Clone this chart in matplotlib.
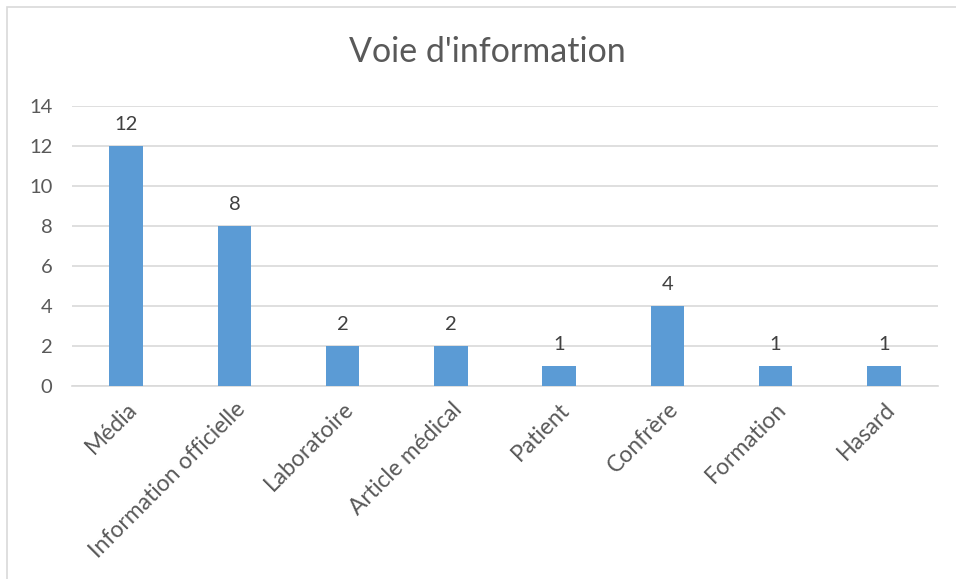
import matplotlib.pyplot as plt
from matplotlib.patches import Rectangle

categories = ['Média', 'Information officielle', 'Laboratoire', 'Article médical',
              'Patient', 'Confrère', 'Formation', 'Hasard']
counts = [12, 8, 2, 2, 1, 4, 1, 1]
yticks = [0, 2, 4, 6, 8, 10, 12, 14]

plt.rcParams['font.family'] = ['Lato', 'DejaVu Sans']

fig = plt.figure(figsize=(9.56, 5.79), dpi=100)
ax = fig.add_axes([72 / 956, 193 / 579, 866 / 956, 280 / 579])

# cadre du graphique
fig.patches.append(Rectangle((7 / 956, -0.1), 1.2, 1.1 - 7 / 579,
                             transform=fig.transFigure, fill=False,
                             edgecolor='#D9D9D9', linewidth=1.2))

x = range(len(categories))
bars = ax.bar(x, counts, width=0.31, color='#5B9BD5', zorder=3)
for rect, v in zip(bars, counts):
    ax.text(rect.get_x() + rect.get_width() / 2, v + 0.65, str(v),
            ha='center', va='bottom', fontsize=14.5, color='#404040')

ax.set_xlim(-0.5, len(categories) - 0.5)
ax.set_ylim(0, 14)
ax.set_yticks(yticks)
ax.yaxis.grid(True, color='#D9D9D9', linewidth=1.2, zorder=0)
for s in ['top', 'right', 'left']:
    ax.spines[s].set_visible(False)
ax.spines['bottom'].set_color('#D9D9D9')
ax.spines['bottom'].set_linewidth(1.2)
ax.tick_params(length=0, colors='#595959', labelsize=14.5)
ax.tick_params(axis='y', pad=14)
ax.set_xticks(list(x))
ax.set_xticklabels(categories, rotation=45, ha='right', rotation_mode='anchor',
                   fontsize=16.5)
ax.tick_params(axis='x', pad=9)

fig.text(0.51, 0.91, "Voie d'information", ha='center', va='center',
         fontsize=24.5, color='#595959')

fig.savefig('out.png', dpi=100)
